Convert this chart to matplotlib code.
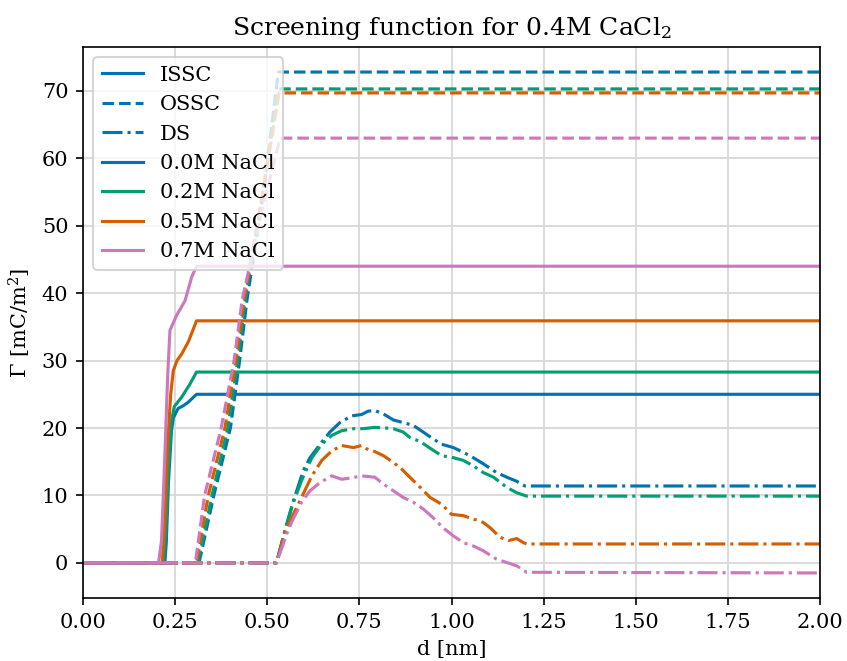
import matplotlib
matplotlib.use("Agg")
import matplotlib.pyplot as plt
from matplotlib.lines import Line2D

plt.rcParams["font.family"] = ["DejaVu Serif"]
plt.rcParams["mathtext.fontset"] = "dejavuserif"

concentrations = ["0.0M NaCl", "0.2M NaCl", "0.5M NaCl", "0.7M NaCl"]
colors = ["#0173b2", "#029e73", "#d55e00", "#cc78bc"]

# Inner-sphere screening charge (ISSC)
issc_d_00 = [0.0, 0.222, 0.226, 0.232, 0.240, 0.245, 0.258, 0.272, 0.285, 0.308, 2.0]
issc_g_00 = [0.0, 0.0, 3.0, 12.0, 19.5, 21.5, 22.9, 23.3, 23.8, 25.0, 25.0]
issc_d_02 = [0.0, 0.218, 0.224, 0.232, 0.240, 0.248, 0.268, 0.290, 0.308, 2.0]
issc_g_02 = [0.0, 0.0, 4.0, 14.0, 21.0, 23.2, 24.6, 26.5, 28.3, 28.3]
issc_d_05 = [0.0, 0.215, 0.222, 0.230, 0.238, 0.245, 0.255, 0.268, 0.286, 0.308, 2.0]
issc_g_05 = [0.0, 0.0, 6.0, 18.0, 25.0, 28.5, 30.0, 31.0, 32.8, 35.9, 35.9]
issc_d_07 = [0.0, 0.205, 0.213, 0.218, 0.2225, 0.230, 0.236, 0.254, 0.277, 0.295, 0.308, 2.0]
issc_g_07 = [0.0, 0.0, 3.3, 10.0, 16.6, 28.0, 34.5, 36.7, 38.9, 42.4, 44.0, 44.0]

# Outer-sphere screening charge (OSSC)
ossc_d_00 = [0.0, 0.315, 0.355, 0.400, 0.425, 0.445, 0.490, 0.530, 2.0]
ossc_g_00 = [0.0, 0.0, 10.0, 20.0, 30.0, 39.0, 55.0, 72.8, 72.8]
ossc_d_02 = [0.0, 0.312, 0.350, 0.393, 0.420, 0.440, 0.485, 0.532, 2.0]
ossc_g_02 = [0.0, 0.0, 10.0, 20.0, 30.0, 39.0, 54.0, 70.3, 70.3]
ossc_d_05 = [0.0, 0.308, 0.340, 0.385, 0.415, 0.437, 0.485, 0.532, 2.0]
ossc_g_05 = [0.0, 0.0, 10.0, 20.0, 30.0, 39.0, 54.0, 69.7, 69.7]
ossc_d_07 = [0.0, 0.305, 0.330, 0.375, 0.410, 0.432, 0.480, 0.535, 2.0]
ossc_g_07 = [0.0, 0.0, 10.0, 20.0, 30.0, 39.0, 51.0, 63.0, 63.0]

# Diffuse screening (DS)
ds_d_00 = [0.0, 0.525, 0.548, 0.571, 0.598, 0.616, 0.648, 0.670, 0.697, 0.729, 0.756,
           0.774, 0.792, 0.815, 0.842, 0.869, 0.896, 0.923, 0.950, 0.973, 1.005, 1.032,
           1.059, 1.086, 1.122, 1.150, 1.177, 1.199, 2.0]
ds_g_00 = [0.0, 0.0, 4.8, 9.2, 13.7, 15.6, 17.9, 19.4, 20.8, 21.8, 22.0,
           22.5, 22.6, 22.1, 21.2, 20.8, 20.4, 19.4, 18.4, 17.6, 17.1, 16.4,
           15.6, 14.7, 13.4, 12.7, 12.1, 11.4, 11.4]
ds_d_02 = [0.0, 0.525, 0.548, 0.566, 0.593, 0.621, 0.648, 0.675, 0.702, 0.734, 0.761,
           0.792, 0.820, 0.842, 0.869, 0.887, 0.915, 0.942, 0.973, 1.005, 1.032, 1.059,
           1.086, 1.114, 1.150, 1.177, 1.204, 2.0]
ds_g_02 = [0.0, 0.0, 4.7, 8.2, 12.2, 15.6, 17.6, 18.9, 19.6, 19.9, 19.9,
           20.1, 20.0, 19.9, 19.4, 18.6, 18.0, 17.0, 15.9, 15.6, 15.2, 14.4,
           13.4, 12.7, 11.2, 10.4, 9.9, 9.9]
ds_d_05 = [0.0, 0.525, 0.548, 0.566, 0.593, 0.621, 0.648, 0.675, 0.702, 0.734, 0.756,
           0.770, 0.792, 0.815, 0.842, 0.865, 0.887, 0.915, 0.942, 0.973, 1.000, 1.032,
           1.059, 1.086, 1.105, 1.132, 1.154, 1.177, 1.195, 1.204, 2.0]
ds_g_05 = [0.0, 0.0, 4.5, 6.7, 9.7, 12.9, 15.2, 16.6, 17.4, 17.1, 17.4,
           16.9, 16.5, 15.9, 14.9, 13.9, 12.7, 11.2, 9.7, 8.7, 7.2, 7.0,
           6.5, 6.0, 5.2, 3.8, 3.3, 3.6, 3.0, 2.8, 2.8]
ds_d_07 = [0.0, 0.525, 0.553, 0.566, 0.593, 0.616, 0.643, 0.675, 0.702, 0.729, 0.756,
           0.792, 0.815, 0.842, 0.869, 0.896, 0.923, 0.950, 0.977, 1.005, 1.032, 1.059,
           1.086, 1.122, 1.150, 1.177, 1.204, 2.0]
ds_g_07 = [0.0, 0.0, 4.3, 6.0, 9.0, 10.7, 11.9, 12.9, 12.4, 12.6, 12.9,
           12.7, 11.7, 10.7, 9.7, 9.0, 8.0, 6.7, 5.2, 4.0, 3.0, 2.5,
           1.8, 0.55, 0.05, -0.45, -1.4, -1.5]

issc = [(issc_d_00, issc_g_00), (issc_d_02, issc_g_02), (issc_d_05, issc_g_05), (issc_d_07, issc_g_07)]
ossc = [(ossc_d_00, ossc_g_00), (ossc_d_02, ossc_g_02), (ossc_d_05, ossc_g_05), (ossc_d_07, ossc_g_07)]
ds = [(ds_d_00, ds_g_00), (ds_d_02, ds_g_02), (ds_d_05, ds_g_05), (ds_d_07, ds_g_07)]

fig = plt.figure(figsize=(847 / 150, 661 / 150), dpi=150)
ax = fig.add_axes([83 / 847, 63 / 661, 737 / 847, 551 / 661])

for i, c in enumerate(colors):
    ax.plot(*issc[i], color=c, linestyle="-")
    ax.plot(*ossc[i], color=c, linestyle="--")
    ax.plot(*ds[i], color=c, linestyle="-.")

ax.set_xlim(0, 2)
ax.grid(True, color="#d9d9d9", linewidth=0.9)
ax.set_axisbelow(True)
ax.set_xlabel("d [nm]")
ax.set_ylabel(r"$\Gamma$ [mC/m$^2$]")
ax.set_title(r"Screening function for 0.4M CaCl$_2$")

handles = [
    Line2D([], [], color=colors[0], linestyle="-", label="ISSC"),
    Line2D([], [], color=colors[0], linestyle="--", label="OSSC"),
    Line2D([], [], color=colors[0], linestyle="-.", label="DS"),
]
for c, name in zip(colors, concentrations):
    handles.append(Line2D([], [], color=c, linestyle="-", label=name))
ax.legend(handles=handles, loc="upper left")

fig.savefig("out.png", dpi=150)
